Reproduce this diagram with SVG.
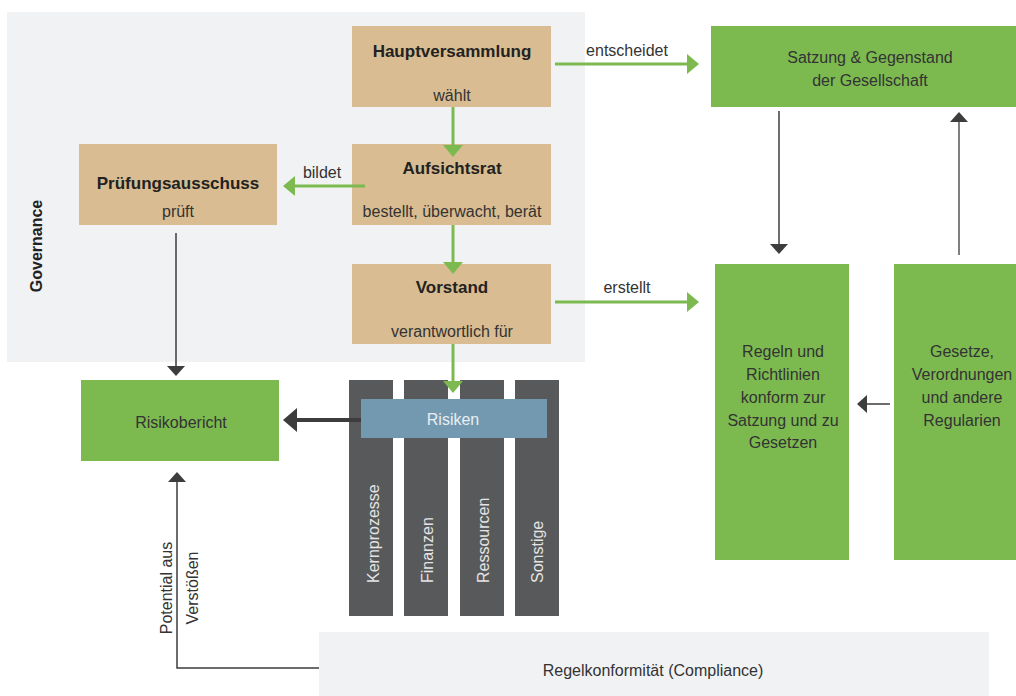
<svg xmlns="http://www.w3.org/2000/svg" width="1016" height="696" viewBox="0 0 1016 696">
<style>
.t{font-family:"Liberation Sans",Arial,sans-serif;font-size:16px;fill:#333333}
.b{font-weight:bold;fill:#222222;font-size:17px}
.c{text-anchor:middle}
.w{fill:#e4e4e4}
.tan{fill:#d9bc91}
.grn{fill:#7cba50}
.col{fill:#58595b}
.gl{stroke:#7cba50;stroke-width:3;fill:none}
.dl{stroke:#3d3d3d;stroke-width:1.5;fill:none}
</style>
<defs>
<marker id="gh" markerUnits="userSpaceOnUse" markerWidth="12" markerHeight="20" viewBox="0 0 12 20" refX="6" refY="10" orient="auto"><path d="M0,0 L12,10 L0,20 z" fill="#7cba50"/></marker>
<marker id="dh" markerUnits="userSpaceOnUse" markerWidth="10" markerHeight="18" viewBox="0 0 10 18" refX="5" refY="9" orient="auto"><path d="M0,0 L10,9 L0,18 z" fill="#3d3d3d"/></marker>
<marker id="th" markerUnits="userSpaceOnUse" markerWidth="14" markerHeight="24" viewBox="0 0 14 24" refX="7" refY="12" orient="auto"><path d="M0,0 L14,12 L0,24 z" fill="#3d3d3d"/></marker>
</defs>

<g id="governance">
<rect x="7" y="12" width="578" height="350" fill="#f1f2f4"/>
<text class="t b c" style="font-size:16px" transform="translate(42,246) rotate(-90)">Governance</text>
</g>

<g id="compliance">
<rect x="319" y="632" width="670" height="64" fill="#f1f2f4"/>
<text class="t c" x="653" y="676">Regelkonformität (Compliance)</text>
</g>

<g id="hauptversammlung">
<rect class="tan" x="352" y="26" width="199" height="81"/>
<text class="t b c" x="452" y="57">Hauptversammlung</text>
<text class="t c" x="452" y="101">wählt</text>
</g>

<g id="aufsichtsrat">
<rect class="tan" x="352" y="144" width="199" height="81"/>
<text class="t b c" x="452" y="174">Aufsichtsrat</text>
<text class="t c" x="452" y="217">bestellt, überwacht, berät</text>
</g>

<g id="pruefungsausschuss">
<rect class="tan" x="79" y="144" width="198" height="81"/>
<text class="t b c" x="178" y="189">Prüfungsausschuss</text>
<text class="t c" x="178" y="217">prüft</text>
</g>

<g id="vorstand">
<rect class="tan" x="352" y="264" width="199" height="80"/>
<text class="t b c" x="452" y="293">Vorstand</text>
<text class="t c" x="452" y="337">verantwortlich für</text>
</g>

<g id="satzung">
<rect class="grn" x="711" y="26" width="305" height="81"/>
<text class="t c" x="870" y="63">Satzung &amp; Gegenstand</text>
<text class="t c" x="870" y="86">der Gesellschaft</text>
</g>

<g id="regeln">
<rect class="grn" x="715" y="264" width="134" height="296"/>
<text class="t c" x="783" y="357">Regeln und</text>
<text class="t c" x="783" y="380">Richtlinien</text>
<text class="t c" x="783" y="403">konform zur</text>
<text class="t c" x="783" y="426">Satzung und zu</text>
<text class="t c" x="783" y="448">Gesetzen</text>
</g>

<g id="gesetze">
<rect class="grn" x="894" y="264" width="122" height="296"/>
<text class="t c" x="962" y="357">Gesetze,</text>
<text class="t c" x="962" y="380">Verordnungen</text>
<text class="t c" x="962" y="403">und andere</text>
<text class="t c" x="962" y="426">Regularien</text>
</g>

<g id="risikobericht">
<rect class="grn" x="81" y="380" width="198" height="81"/>
<text class="t c" x="181" y="428">Risikobericht</text>
</g>

<g id="kernprozesse">
<rect class="col" x="349" y="380" width="44" height="236"/>
<text class="t w" transform="translate(379,583) rotate(-90)">Kernprozesse</text>
</g>
<g id="finanzen">
<rect class="col" x="404" y="380" width="44" height="236"/>
<text class="t w" transform="translate(433,583) rotate(-90)">Finanzen</text>
</g>
<g id="ressourcen">
<rect class="col" x="460" y="380" width="44" height="236"/>
<text class="t w" transform="translate(489,583) rotate(-90)">Ressourcen</text>
</g>
<g id="sonstige">
<rect class="col" x="515" y="380" width="44" height="236"/>
<text class="t w" transform="translate(543,583) rotate(-90)">Sonstige</text>
</g>

<g id="risiken">
<rect x="361" y="399" width="186" height="39" fill="#7399b0"/>
<text class="t c" x="453" y="425" style="fill:#e8eef2">Risiken</text>
</g>

<g id="connectors">
<path class="gl" d="M555,64 H693" marker-end="url(#gh)"/>
<text class="t c" x="627" y="56">entscheidet</text>
<path class="gl" d="M453,107 V151" marker-end="url(#gh)"/>
<path class="gl" d="M365,186 H289" marker-end="url(#gh)"/>
<text class="t c" x="322" y="178">bildet</text>
<path class="gl" d="M453,225 V268" marker-end="url(#gh)"/>
<path class="gl" d="M453,344 V387" marker-end="url(#gh)"/>
<path class="gl" d="M555,302 H693" marker-end="url(#gh)"/>
<text class="t c" x="627" y="293">erstellt</text>
<path d="M361,420 H290" stroke="#3d3d3d" stroke-width="4" fill="none" marker-end="url(#th)"/>
<path class="dl" d="M176,233 V371" marker-end="url(#dh)"/>
<path class="dl" d="M779,111 V249" marker-end="url(#dh)"/>
<path d="M959,255 V117" stroke="#7f7f7f" stroke-width="2" fill="none" marker-end="url(#dh)"/>
<path class="dl" d="M890,404 H862" marker-end="url(#dh)"/>
<path class="dl" d="M319,668 H177 V477" marker-end="url(#dh)"/>
<text class="t c" transform="translate(172,588) rotate(-90)">Potential aus</text>
<text class="t c" transform="translate(198,588) rotate(-90)">Verstößen</text>
</g>
</svg>
